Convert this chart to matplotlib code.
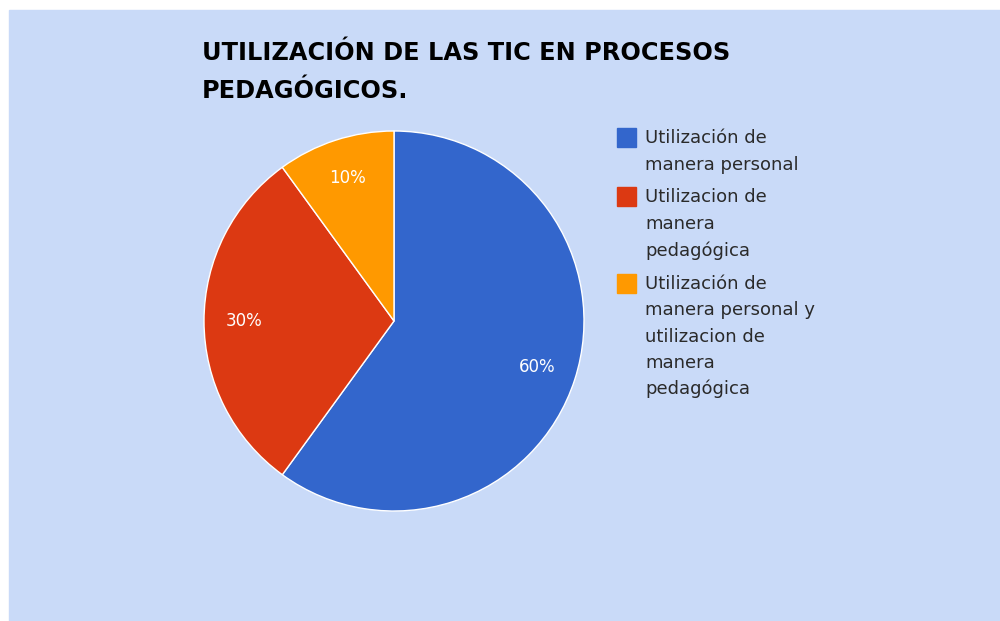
import matplotlib.pyplot as plt
from matplotlib.patches import Rectangle

plt.rcParams['font.family'] = ['DejaVu Sans']

title_lines = ['UTILIZACIÓN DE LAS TIC EN PROCESOS', 'PEDAGÓGICOS.']
labels = ['Utilización de\nmanera personal',
          'Utilizacion de\nmanera\npedagógica',
          'Utilización de\nmanera personal y\nutilizacion de\nmanera\npedagógica']
values = [60, 30, 10]
colors = ['#3366cc', '#dc3912', '#ff9900']
bg = '#c9daf8'

W, H = 1000, 621
fig = plt.figure(figsize=(W / 100, H / 100), dpi=100)
fig.patches.append(Rectangle((9 / W, 0), 1 - 9 / W, 1 - 10 / H,
                             transform=fig.transFigure, color=bg, zorder=-1))

# pie: centre (394, 321) px, radius 190 px
ax = fig.add_axes([204 / W, (H - 511) / H, 380 / W, 380 / H])
wedges, texts, autotexts = ax.pie(values, colors=colors, startangle=90,
                                  counterclock=False, autopct='%d%%',
                                  pctdistance=0.79,
                                  wedgeprops=dict(edgecolor='white', linewidth=1))
for t in autotexts:
    t.set_color('white')
    t.set_fontsize(12)
ax.set_xlim(-1, 1)
ax.set_ylim(-1, 1)
ax.set_aspect('equal')
ax.axis('off')

for i, line in enumerate(title_lines):
    fig.text(202 / W, 1 - (60 + 38 * i) / H, line, fontsize=17.3,
             fontweight='bold', color='black', va='baseline', ha='left')

# legend, drawn by hand so the box sits on the first line
step = 26.5
y = 143
for lab, c in zip(labels, colors):
    fig.patches.append(Rectangle((617 / W, 1 - (y + 4) / H), 19 / W, 19 / H,
                                 transform=fig.transFigure, color=c))
    lines = lab.split('\n')
    for k, line in enumerate(lines):
        fig.text(645 / W, 1 - (y + k * step) / H, line, fontsize=13,
                 color='#2a2a2a', va='baseline', ha='left')
    y += len(lines) * step + 6.5

fig.savefig('out.png', dpi=100)
